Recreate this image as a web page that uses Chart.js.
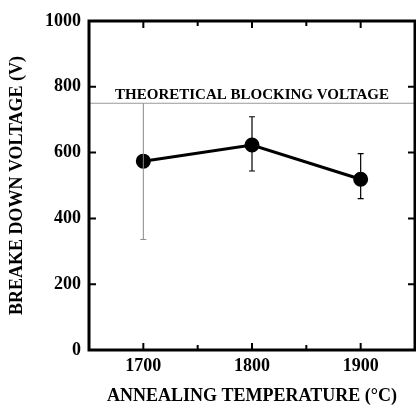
<!DOCTYPE html>
<html>
<head>
<meta charset="utf-8">
<script src="https://cdn.jsdelivr.net/npm/chart.js@4.4.0/dist/chart.umd.min.js"></script>
<style>
  html, body { margin: 0; padding: 0; background: #fff; }
  canvas { display: block; }
</style>
</head>
<body>
<canvas id="chart" width="416" height="407"></canvas>
<script>
// values
const temps = [1700, 1800, 1900];
const voltage = [574, 623, 519];
const errHigh = [750, 709, 597];
const errLow = [336, 544, 460];
const theoreticalVoltage = 750;
const theoreticalLabel = "THEORETICAL BLOCKING VOLTAGE";
const xTickValues = [1700, 1800, 1900];
const xMinorTicks = [1750, 1850];
const yTickValues = [0, 200, 400, 600, 800, 1000];

const serif = "'Liberation Serif', 'DejaVu Serif', serif";

// frame, inside ticks, error bars and the label of the theoretical line
var framePlugin = {
	id: "frame",
	afterDatasetsDraw: function(chart) {
		var ctx = chart.ctx;
		var area = chart.chartArea;
		var xs = chart.scales.x;
		var ys = chart.scales.y;
		ctx.save();

		// error bars
		for (var i = 0; i < temps.length; i++) {
			var px = xs.getPixelForValue(temps[i]);
			var top = ys.getPixelForValue(errHigh[i]);
			var bot = ys.getPixelForValue(errLow[i]);
			var gray = (i == 0);
			ctx.strokeStyle = gray ? "#8a8a8a" : "#000";
			ctx.lineWidth = gray ? 1 : 1.2;
			ctx.beginPath();
			ctx.moveTo(px, top);
			ctx.lineTo(px, bot);
			if (!gray) {
				ctx.moveTo(px - 3, top);
				ctx.lineTo(px + 3, top);
			}
			ctx.moveTo(px - 3, bot);
			ctx.lineTo(px + 3, bot);
			ctx.stroke();
		}

		// label of theoretical line
		ctx.fillStyle = "#000";
		ctx.font = "bold 15px " + serif;
		ctx.textAlign = "center";
		ctx.textBaseline = "alphabetic";
		ctx.fillText(theoreticalLabel, (area.left + area.right) / 2, ys.getPixelForValue(theoreticalVoltage) - 4);

		// ticks inside the frame
		ctx.strokeStyle = "#000";
		ctx.lineWidth = 2;
		ctx.beginPath();
		xTickValues.forEach(function(v) {
			var p = xs.getPixelForValue(v);
			ctx.moveTo(p, area.bottom); ctx.lineTo(p, area.bottom - 7);
			ctx.moveTo(p, area.top); ctx.lineTo(p, area.top + 7);
		});
		xMinorTicks.forEach(function(v) {
			var p = xs.getPixelForValue(v);
			ctx.moveTo(p, area.bottom); ctx.lineTo(p, area.bottom - 5);
			ctx.moveTo(p, area.top); ctx.lineTo(p, area.top + 5);
		});
		yTickValues.forEach(function(v) {
			var p = ys.getPixelForValue(v);
			ctx.moveTo(area.left, p); ctx.lineTo(area.left + 7, p);
			ctx.moveTo(area.right, p); ctx.lineTo(area.right - 7, p);
		});
		ctx.stroke();

		// frame
		ctx.lineWidth = 3;
		ctx.strokeRect(area.left, area.top, area.right - area.left, area.bottom - area.top);
		ctx.restore();
	}
};

var ctx = document.getElementById("chart");

var data = {
	datasets: [
		{
			label: "breakdown",
			data: temps.map(function(t, i) { return { x: t, y: voltage[i] }; }),
			borderColor: "#000",
			backgroundColor: "#000",
			borderWidth: 3,
			pointRadius: 6,
			pointHoverRadius: 6,
			fill: false,
			tension: 0,
			order: 1
		},
		{
			label: "theoretical",
			data: [{ x: 1650, y: theoreticalVoltage }, { x: 1950, y: theoreticalVoltage }],
			borderColor: "#999",
			borderWidth: 1,
			pointRadius: 0,
			fill: false,
			order: 2
		}
	]
};

var options = {
	responsive: false,
	animation: false,
	layout: { autoPadding: false, padding: { top: 21, right: 1, left: 0, bottom: 0 } },
	plugins: {
		legend: { display: false },
		tooltip: { enabled: false }
	},
	scales: {
		x: {
			type: "linear",
			min: 1650,
			max: 1950,
			afterBuildTicks: function(scale) {
				scale.ticks = xTickValues.map(function(v) { return { value: v }; });
			},
			afterFit: function(scale) {
				scale.height = 57;
				scale.paddingLeft = 0;
				scale.paddingRight = 0;
			},
			grid: { display: false, drawTicks: false },
			border: { display: false },
			ticks: {
				color: "#000",
				padding: 6,
				maxRotation: 0,
				callback: function(v) { return String(v); },
				font: { family: serif, size: 18, weight: "bold" }
			},
			title: {
				display: true,
				text: "ANNEALING TEMPERATURE (\u00B0C)",
				color: "#000",
				padding: { top: 0, bottom: 0 },
				font: { family: serif, size: 18, weight: "bold" }
			}
		},
		y: {
			min: 0,
			max: 1000,
			afterBuildTicks: function(scale) {
				scale.ticks = yTickValues.map(function(v) { return { value: v }; });
			},
			afterFit: function(scale) {
				scale.width = 89;
				scale.paddingTop = 0;
				scale.paddingBottom = 0;
			},
			grid: { display: false, drawTicks: false },
			border: { display: false },
			ticks: {
				color: "#000",
				padding: 8,
				callback: function(v) { return String(v); },
				font: { family: serif, size: 18, weight: "bold" }
			},
			title: {
				display: true,
				text: "BREAKE DOWN VOLTAGE (V)",
				color: "#000",
				padding: { top: 7, bottom: 0 },
				font: { family: serif, size: 18, weight: "bold" }
			}
		}
	}
};

var chart = new Chart(ctx, {
	type: "line",
	data: data,
	options: options,
	plugins: [framePlugin]
});
</script>
</body>
</html>
